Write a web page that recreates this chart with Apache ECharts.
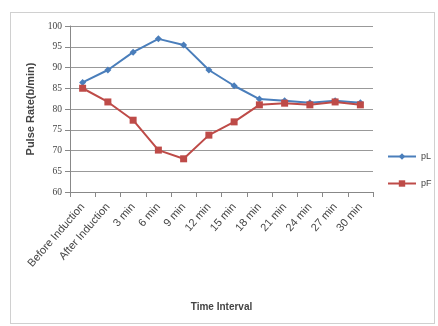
<!DOCTYPE html>
<html>
<head>
<meta charset="utf-8">
<script src="https://cdn.jsdelivr.net/npm/echarts@6/dist/echarts.min.js"></script>
<style>
  html, body { margin: 0; padding: 0; background: #fff; }
  #frame { position: absolute; left: 10px; top: 12px; width: 425px; height: 312px; border: 1px solid #d0d0d0; box-sizing: border-box; }
  #chart { width: 438px; height: 326px; }
</style>
</head>
<body>
<div id="frame"></div>
<div id="chart"></div>
<script>
const categories = ['Before Induction', 'After Induction', '3 min', '6 min', '9 min', '12 min', '15 min', '18 min', '21 min', '24 min', '27 min', '30 min']
const pL = [86.4, 89.4, 93.7, 96.9, 95.4, 89.4, 85.6, 82.4, 82, 81.5, 82, 81.5]
const pF = [85, 81.7, 77.3, 70.1, 68, 73.7, 76.9, 81, 81.4, 81, 81.7, 81]

const chart = echarts.init(document.getElementById('chart'))
const textColor = '#444'
const font = 'Liberation Sans'

chart.setOption({
  animation: false,
  color: ['#4A7EBB', '#BE4B48'],
  legend: {
    orient: 'vertical',
    left: 382,
    top: 147,
    itemGap: 18,
    itemWidth: 28,
    itemHeight: 8,
    textStyle: { fontSize: 9, color: textColor, fontFamily: font },
    data: ['pL', 'pF']
  },
  grid: { left: 70, right: 65, top: 26, bottom: 134 },
  xAxis: {
    type: 'category',
    data: categories,
    boundaryGap: true,
    name: 'Time Interval',
    nameLocation: 'middle',
    nameGap: 110,
    nameTextStyle: { fontSize: 10, fontWeight: 'bold', color: textColor, fontFamily: font },
    axisLine: { lineStyle: { color: '#888' } },
    axisTick: { show: true, lineStyle: { color: '#888' } },
    axisLabel: { rotate: 49, fontSize: 11, color: textColor, interval: 0, margin: 13, fontFamily: font }
  },
  yAxis: {
    type: 'value',
    min: 60,
    max: 100,
    interval: 5,
    name: 'Pulse Rate(b/min)',
    nameLocation: 'middle',
    nameGap: 34,
    nameTextStyle: { fontSize: 11, fontWeight: 'bold', color: textColor, fontFamily: font },
    axisLine: { show: true, lineStyle: { color: '#888' } },
    axisTick: { show: true, lineStyle: { color: '#888' } },
    axisLabel: { fontSize: 9.5, color: textColor, fontFamily: 'Liberation Serif' },
    splitLine: { lineStyle: { color: '#999', width: 1 } }
  },
  series: [
    {
      name: 'pL',
      type: 'line',
      data: pL,
      symbol: 'diamond',
      symbolSize: 7,
      lineStyle: { width: 2 }
    },
    {
      name: 'pF',
      type: 'line',
      data: pF,
      symbol: 'rect',
      symbolSize: 7,
      lineStyle: { width: 2 }
    }
  ]
})
</script>
</body>
</html>
